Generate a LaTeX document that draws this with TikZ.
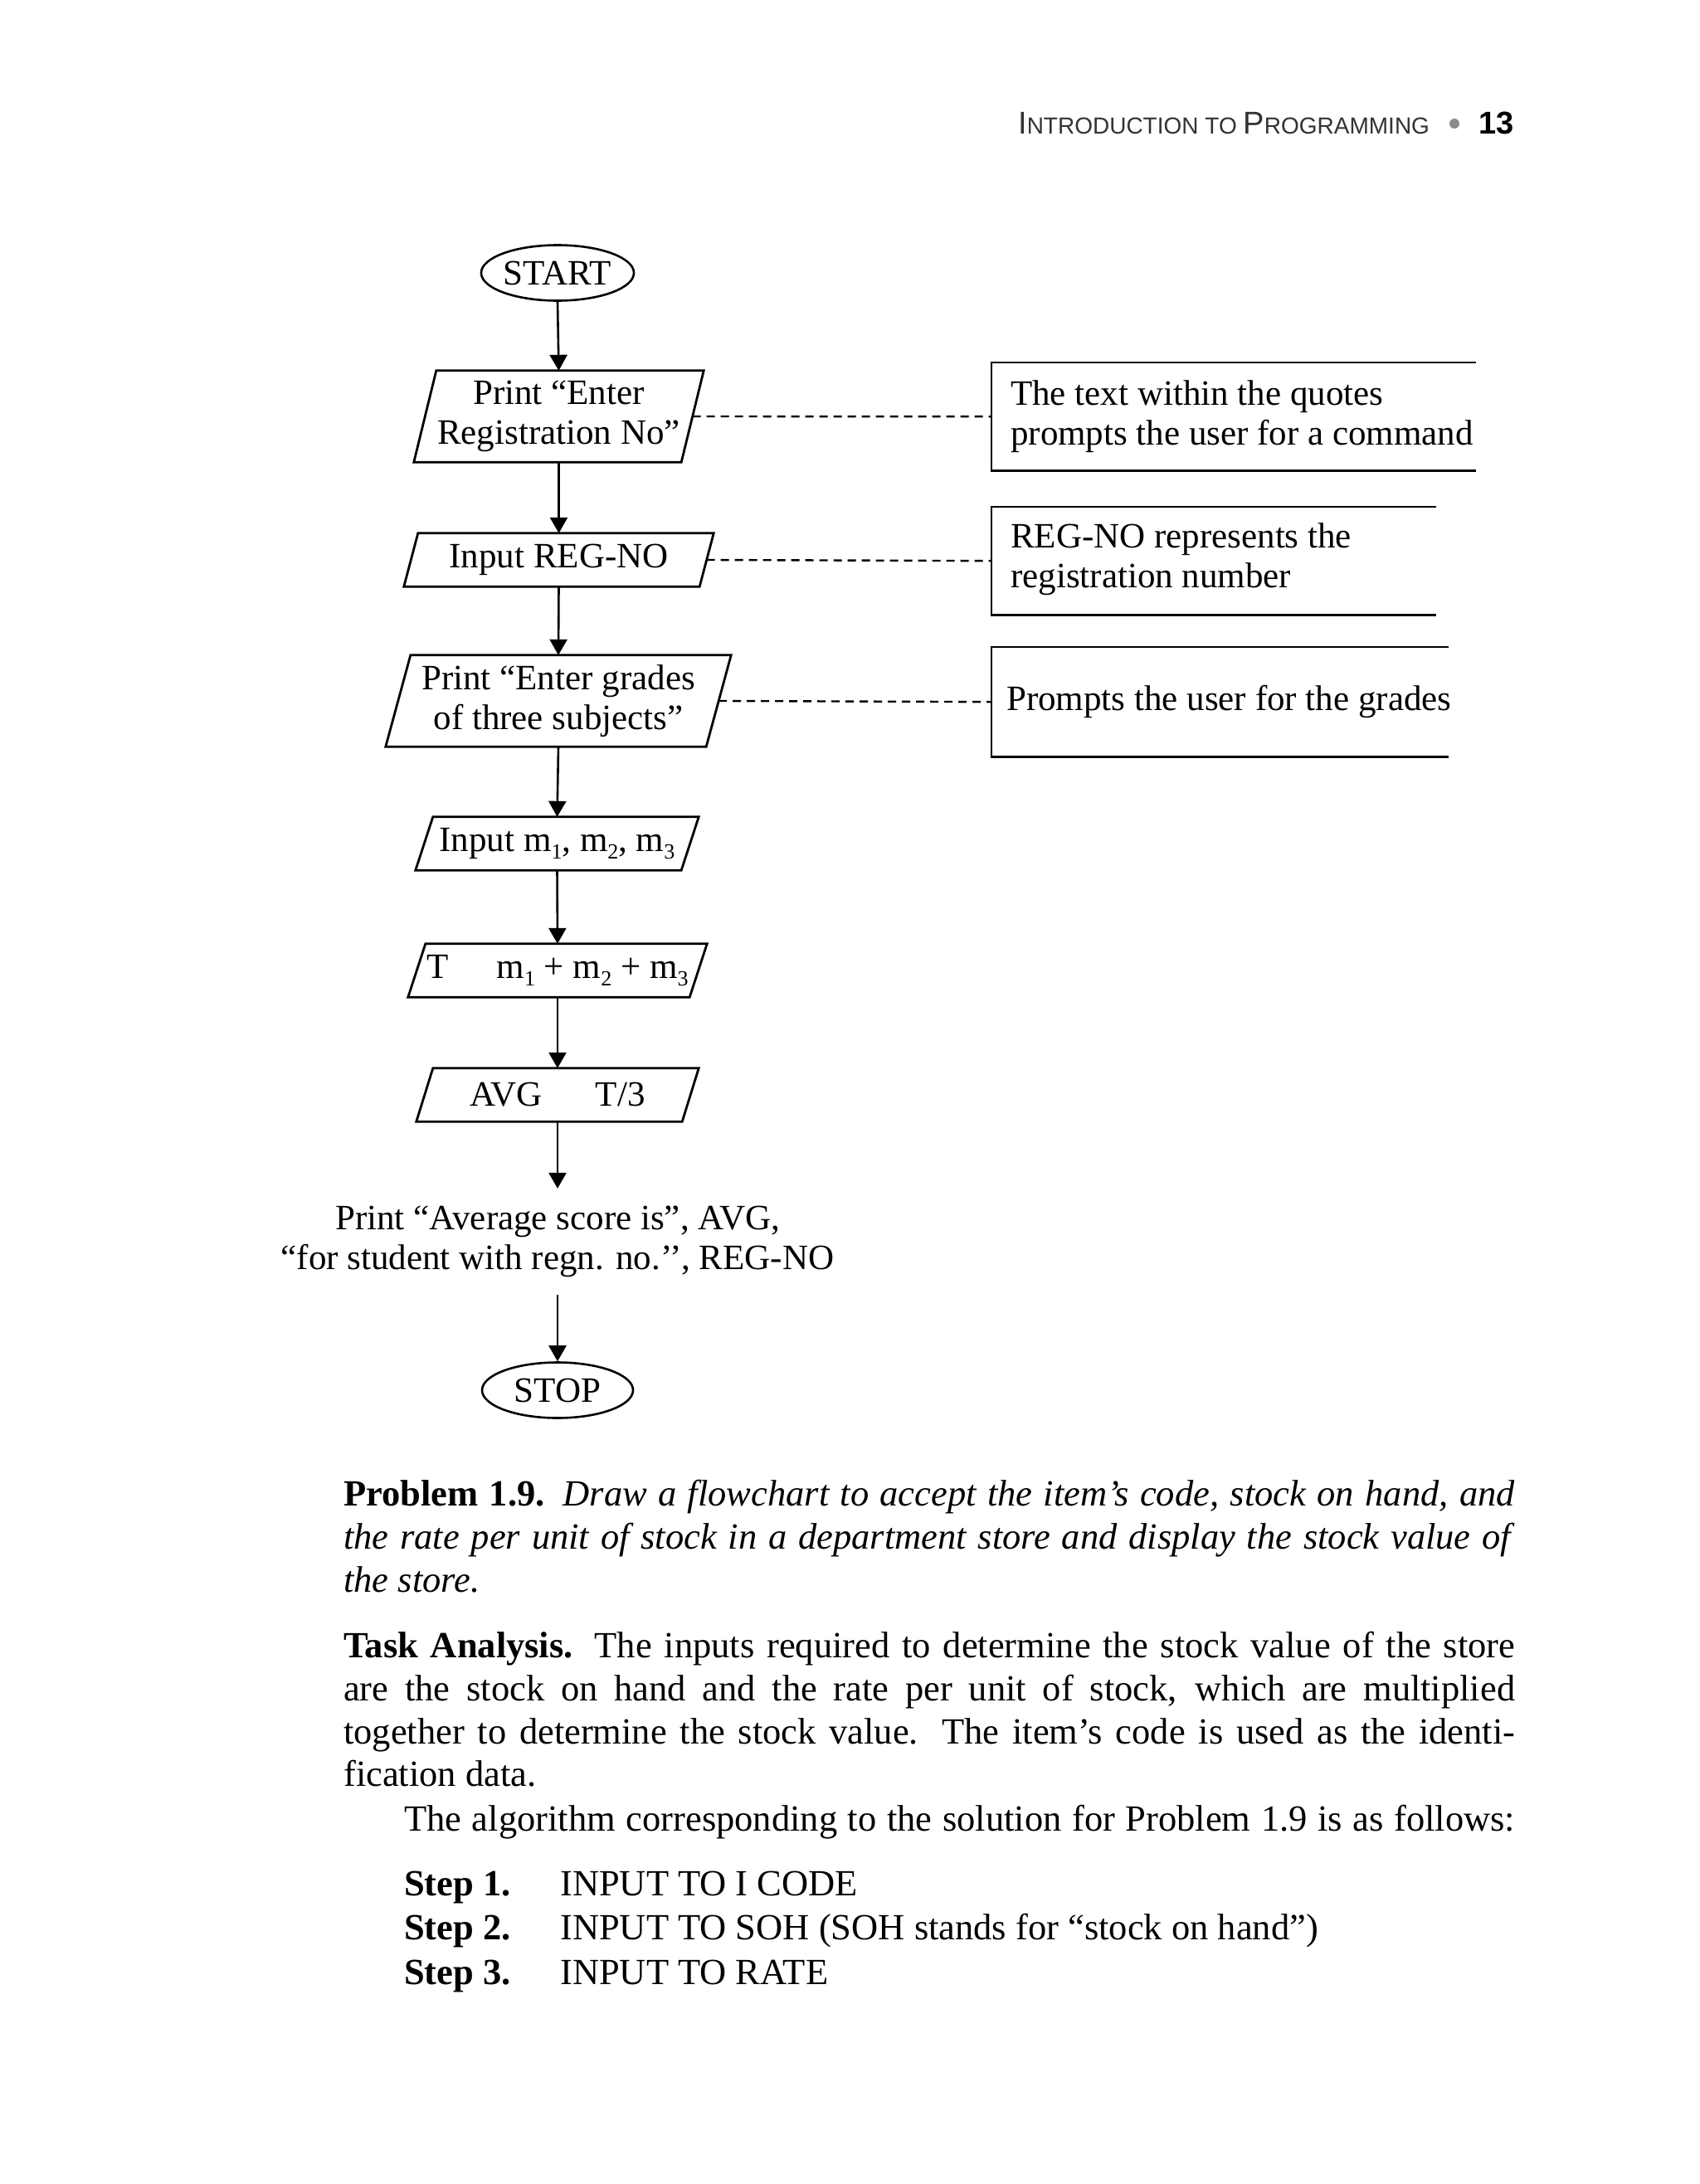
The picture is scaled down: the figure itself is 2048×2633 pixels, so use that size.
\documentclass[tikz,border=0pt]{standalone}
\usepackage{fontspec}
\setmainfont{Liberation Serif}
\newfontfamily\hdrfont{Liberation Sans}
\usetikzlibrary{arrows.meta,shapes.geometric,calc}
\newcommand\fcsize{\fontsize{43}{48}\selectfont}
\newcommand\bdsize{\fontsize{44.5}{52}\selectfont}
\newcommand\sbs[1]{\raisebox{-9pt}{\fontsize{26}{26}\selectfont #1}}
\newcommand\iopath[2]{\draw[shapeln] ($(#1.north west)+(#2,0)$) -- (#1.north east) -- ($(#1.south east)-(#2,0)$) -- (#1.south west) -- cycle;}
\begin{document}
\begin{tikzpicture}[x=1pt,y=-1pt,
  shapeln/.style={line width=2.8pt, line join=miter},
  io/.style={inner sep=0pt, align=center, font=\fcsize},
  term/.style={ellipse, draw, line width=2.6pt, minimum width=182pt, minimum height=67pt, inner sep=0pt, font=\fcsize},
  arr/.style={line width=2.6pt, -{Triangle[length=19pt,width=21pt]}},
  dsh/.style={line width=2.4pt, dash pattern=on 10pt off 7pt},
  frame/.style={inner sep=0pt, anchor=north west},
  frameln/.style={line width=2.8pt},
  notetxt/.style={inner sep=0pt, align=left, font=\fcsize, anchor=west},
  body/.style={inner sep=0pt, anchor=base west, font=\bdsize}]
\useasboundingbox (0,0) rectangle (2048,2633);
\fill[white] (0,0) rectangle (2048,2633);

% header
\node[anchor=base west, inner sep=0pt, text=black!80, font=\hdrfont] (hdr) at (1227,162)
  {{\fontsize{38}{38}\selectfont I}{\fontsize{28}{28}\selectfont NTRODUCTION TO }{\fontsize{38}{38}\selectfont P}{\fontsize{28}{28}\selectfont ROGRAMMING}};
\node[circle, fill=black!45, minimum size=12pt, inner sep=0pt] (bul) at (1753,149) {};
\node[anchor=base west, inner sep=0pt, font=\hdrfont\bfseries\fontsize{38}{38}\selectfont] (pg) at (1782,162) {13};

% flowchart
\node[term] (start) at (672,329) {START};
\node[io, minimum width=349pt, minimum height=110pt] (p1) at (673.5,502) {Print “Enter\\Registration No”};
\node[io, minimum width=373pt, minimum height=64pt] (p2) at (673.5,675) {Input REG-NO};
\node[io, minimum width=416pt, minimum height=110pt] (p3) at (673,845) {Print “Enter grades\\of three subjects”};
\node[io, minimum width=341pt, minimum height=64pt] (p4) at (671.5,1017) {Input m\sbs{1}, m\sbs{2}, m\sbs{3}};
\node[io, minimum width=360pt, minimum height=64pt] (p5) at (672,1170) {T\hspace{58pt}m\sbs{1} + m\sbs{2} + m\sbs{3}};
\node[io, minimum width=340pt, minimum height=64pt] (p6) at (672,1320) {AVG\hspace{64pt}T/3};
\node[io, inner ysep=21pt] (pr) at (672,1497) {Print “Average score is”, AVG,\\“for student with regn. no.’’, REG-NO};
\node[term] (stop) at (672,1676) {STOP};

\iopath{p1}{27}
\iopath{p2}{17}
\iopath{p3}{30}
\iopath{p4}{21}
\iopath{p5}{21}
\iopath{p6}{20}

\draw[arr] (start.south) -- (p1.north);
\draw[arr] (p1.south) -- (p2.north);
\draw[arr] (p2.south) -- (p3.north);
\draw[arr] (p3.south) -- (p4.north);
\draw[arr] (p4.south) -- (p5.north);
\draw[arr] (p5.south) -- (p6.north);
\draw[arr] (p6.south) -- (pr.north);
\draw[arr] (pr.south) -- (stop.north);

% notes
\node[frame, minimum width=584pt, minimum height=130pt] (n1) at (1195,437) {};
\node[frame, minimum width=536pt, minimum height=130pt] (n2) at (1195,611) {};
\node[frame, minimum width=551pt, minimum height=132pt] (n3) at (1195,780) {};
\draw[frameln] (n1.north east) -- (n1.north west) -- (n1.south west) -- (n1.south east);
\draw[frameln] (n2.north east) -- (n2.north west) -- (n2.south west) -- (n2.south east);
\draw[frameln] (n3.north east) -- (n3.north west) -- (n3.south west) -- (n3.south east);
\node[notetxt] (n1t) at ($(n1.west)+(23,0)$) {The text within the quotes\\prompts the user for a command};
\node[notetxt] (n2t) at ($(n2.west)+(23,-2)$) {REG-NO represents the\\registration number};
\node[notetxt] (n3t) at ($(n3.west)+(18,0)$) {Prompts the user for the grades};

\draw[dsh] ($(p1.east)-(13.5,0)$) -- (n1.west);
\draw[dsh] ($(p2.east)-(8.5,0)$) -- (n2.west);
\draw[dsh] ($(p3.east)-(15,0)$) -- (n3.west);

% body text
\node[body] (t1) at (414,1815) {\makebox[1412pt][s]{\textbf{Problem 1.9.}\enspace\textit{Draw a flowchart to accept the item’s code, stock on hand, and}}};
\node[body] (t2) at (414,1867) {\makebox[1412pt][s]{\textit{the rate per unit of stock in a department store and display the stock value of}}};
\node[body] (t3) at (414,1919) {\textit{the store.}};
\node[body] (t4) at (414,1998) {\makebox[1412pt][s]{\textbf{Task Analysis.} The inputs required to determine the stock value of the store}};
\node[body] (t5) at (414,2050) {\makebox[1412pt][s]{are the stock on hand and the rate per unit of stock, which are multiplied}};
\node[body] (t6) at (414,2102) {\makebox[1412pt][s]{together to determine the stock value. The item’s code is used as the identi-}};
\node[body] (t7) at (414,2153) {fication data.};
\node[body] (t8) at (487,2207) {\makebox[1339pt][s]{The algorithm corresponding to the solution for Problem 1.9 is as follows:}};
\node[body] (s1) at (487,2285) {\textbf{Step 1.}};
\node[body] (s1t) at (675,2285) {INPUT TO I CODE};
\node[body] (s2) at (487,2338) {\textbf{Step 2.}};
\node[body] (s2t) at (675,2338) {INPUT TO SOH (SOH stands for “stock on hand”)};
\node[body] (s3) at (487,2392) {\textbf{Step 3.}};
\node[body] (s3t) at (675,2392) {INPUT TO RATE};
\end{tikzpicture}
\end{document}
